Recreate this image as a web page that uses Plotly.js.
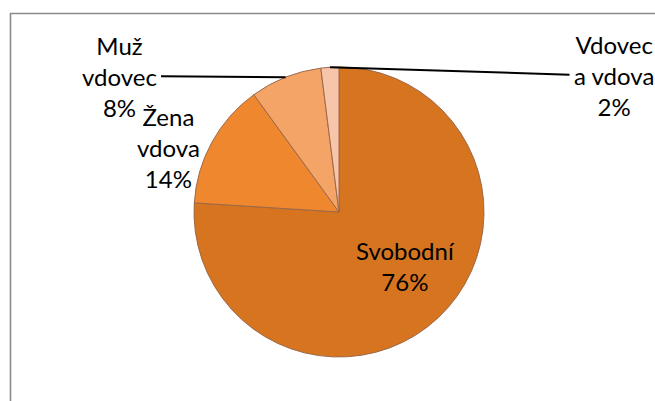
<!DOCTYPE html>
<html>
<head>
<meta charset="utf-8">
<script src="https://cdn.plot.ly/plotly-3.0.1.min.js"></script>
<style>html,body{margin:0;padding:0;background:#fff;}</style>
</head>
<body>
<div id="chart" style="width:655px;height:401px;"></div>
<script>
// Data
const categories = ['Svobodní', 'Žena vdova', 'Muž vdovec', 'Vdovec a vdova'];
const percentages = [76, 14, 8, 2];
const labelTexts = ['Svobodní<br>76%', 'Žena<br>vdova<br>14%', 'Muž<br>vdovec<br>8%', 'Vdovec<br>a vdova<br>2%'];

// Styling / layout
const colors = ['#D6741F', '#EF872E', '#F5A467', '#F7C6AA'];
const W = 655, H = 401;
const cx = 339, cy = 212, R = 145;
// label centers in pixels (layout only)
const labelPos = [[405, 266], [168, 147], [119, 76], [614, 76]];
const withLeader = [false, false, true, true];

const px = x => x / W;
const py = y => (H - y) / H;

const total = percentages.reduce((a, b) => a + b, 0);
let cum = 0;
const annotations = [];
percentages.forEach((v, i) => {
  const mid = (cum + v / 2) / total; // fraction clockwise from top
  cum += v;
  const ang = mid * 2 * Math.PI;
  const ex = cx + R * Math.sin(ang);
  const ey = cy - R * Math.cos(ang);
  const font = {family: 'Lato, Carlito, Calibri, sans-serif', size: 24, color: '#000'};
  if (withLeader[i]) {
    annotations.push({
      xref: 'paper', yref: 'paper', x: px(ex), y: py(ey),
      ax: labelPos[i][0] - ex, ay: labelPos[i][1] - ey,
      text: labelTexts[i], showarrow: true, arrowhead: 0, arrowwidth: 2,
      arrowcolor: '#000', standoff: 0, startstandoff: 0, borderpad: 4,
      font: font, align: 'center'
    });
  } else {
    annotations.push({
      xref: 'paper', yref: 'paper', x: px(labelPos[i][0]), y: py(labelPos[i][1]),
      xanchor: 'center', yanchor: 'middle',
      text: labelTexts[i], showarrow: false, font: font, align: 'center'
    });
  }
});

const trace = {
  type: 'pie',
  labels: categories,
  values: percentages,
  sort: false,
  direction: 'clockwise',
  rotation: 0,
  textinfo: 'none',
  hoverinfo: 'none',
  marker: {colors: colors, line: {color: '#9C6848', width: 1}},
  domain: {x: [px(cx - R), px(cx + R)], y: [py(cy + R), py(cy - R)]}
};

const layout = {
  width: W, height: H,
  margin: {l: 0, r: 0, t: 0, b: 0},
  paper_bgcolor: '#fff',
  showlegend: false,
  annotations: annotations,
  shapes: [{
    type: 'rect', xref: 'paper', yref: 'paper',
    x0: px(10.5), x1: px(W + 20), y0: py(H + 20), y1: py(13.5),
    line: {color: '#8A8A8A', width: 1.6}, fillcolor: 'rgba(0,0,0,0)', layer: 'below'
  }]
};

Plotly.newPlot('chart', [trace], layout, {displayModeBar: false, staticPlot: true});
</script>
</body>
</html>
